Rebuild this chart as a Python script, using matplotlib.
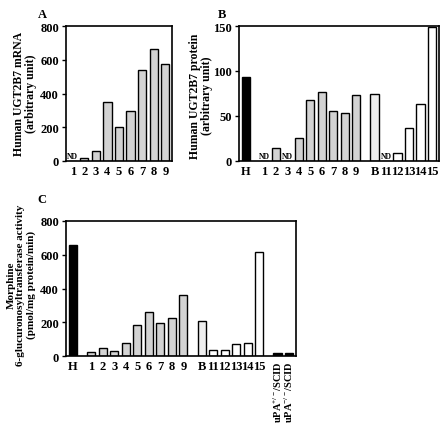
import matplotlib
matplotlib.use("Agg")
import matplotlib.pyplot as plt

plt.rcParams['font.family'] = ['Liberation Serif', 'DejaVu Serif']
plt.rcParams['font.weight'] = 'bold'
plt.rcParams['mathtext.fontset'] = 'custom'
plt.rcParams['mathtext.rm'] = 'Liberation Serif:bold'
plt.rcParams['mathtext.bf'] = 'Liberation Serif:bold'
plt.rcParams['mathtext.it'] = 'Liberation Serif:bold'

# ---- data ----
a_labels = ['1', '2', '3', '4', '5', '6', '7', '8', '9']
a_values = [0, 16, 61, 351, 203, 297, 540, 663, 573]
a_nd = ['1']

b_labels = ['H', '1', '2', '3', '4', '5', '6', '7', '8', '9', 'B', '11', '12', '13', '14', '15']
b_values = [93, 0, 14, 0, 26, 68, 77, 56, 53, 73, 74, 0, 9, 37, 63, 149]
b_nd = ['1', '3', '11']

c_labels = ['H', '1', '2', '3', '4', '5', '6', '7', '8', '9', 'B', '11', '12', '13', '14', '15',
            r'uPA$^{+/-}$/SCID', r'uPA$^{-/-}$/SCID']
c_values = [656, 22, 45, 29, 75, 186, 263, 196, 227, 359, 207, 34, 36, 73, 79, 618, 18, 20]

# group of each category: human, chimeric gray, B, chimeric white, mouse
b_groups = ['h'] + ['g'] * 9 + ['b'] + ['w'] * 5
c_groups = ['h'] + ['g'] * 9 + ['b'] + ['w'] * 5 + ['m', 'm']

colors = {'h': 'black', 'g': '#d3d3d3', 'b': '#eeeeee', 'w': 'white', 'm': 'black'}
GAP = 1.6

def positions(groups):
    pos = []
    x = 0.0
    prev = None
    for g in groups:
        if prev is not None:
            if (prev != g) and not (prev == 'b' and g == 'w'):
                x += GAP
            else:
                x += 1
        pos.append(x)
        prev = g
    return pos

W, H = 440, 427
fig = plt.figure(figsize=(W / 100, H / 100), dpi=100)

def add_ax(l, r, t, b):
    return fig.add_axes([l / W, 1 - b / H, (r - l) / W, (b - t) / H])

def ylab(x, y, s, fs):
    fig.text(x / W, 1 - y / H, s, rotation=90, ha='center', va='center',
             fontsize=fs, fontweight='bold', linespacing=1.1, multialignment='center')

TFS = 9
LFS = 8.5

def style(ax):
    ax.tick_params(axis='y', direction='out', length=3, width=1, labelsize=TFS, pad=2)
    ax.tick_params(axis='x', length=0, labelsize=TFS, pad=3)
    for s in ax.spines.values():
        s.set_linewidth(1.2)
    for lab in ax.get_xticklabels() + ax.get_yticklabels():
        lab.set_fontweight('bold')

# ---- Panel A ----
axA = add_ax(66, 172, 27, 162)
xa = list(range(1, len(a_labels) + 1))
axA.bar(xa, a_values, width=0.72, color='#d3d3d3', edgecolor='black', linewidth=1)
axA.set_xlim(0.42, 9.58)
axA.set_ylim(0, 800)
axA.set_yticks([0, 200, 400, 600, 800])
axA.set_xticks(xa)
axA.set_xticklabels(a_labels)
for lab in a_nd:
    i = a_labels.index(lab)
    axA.text(xa[i], 8, 'ND', ha='center', va='bottom', fontsize=5.5, fontweight='bold')
style(axA)
ylab(25, 94, 'Human UGT2B7 mRNA\n(arbitrary unit)', LFS)
fig.text(42 / W, 1 - 15 / H, 'A', fontsize=9, fontweight='bold', ha='center', va='center')

# ---- Panel B ----
axB = add_ax(239, 439, 27, 162)
xb = positions(b_groups)
axB.bar(xb, b_values, width=0.72, color=[colors[g] for g in b_groups],
        edgecolor='black', linewidth=1)
axB.set_xlim(-0.6, xb[-1] + 0.6)
axB.set_ylim(0, 150)
axB.set_yticks([0, 50, 100, 150])
axB.set_xticks(xb)
axB.set_xticklabels(b_labels)
for lab in b_nd:
    i = b_labels.index(lab)
    axB.text(xb[i], 1.5, 'ND', ha='center', va='bottom', fontsize=5.5, fontweight='bold')
style(axB)
ylab(201, 96, 'Human UGT2B7 protein\n(arbitrary unit)', LFS)
fig.text(222 / W, 1 - 15 / H, 'B', fontsize=9, fontweight='bold', ha='center', va='center')

# ---- Panel C ----
axC = add_ax(66, 296, 222, 357)
xc = positions(c_groups)
axC.bar(xc, c_values, width=0.72, color=[colors[g] for g in c_groups],
        edgecolor='black', linewidth=1)
axC.set_xlim(-0.6, xc[-1] + 0.6)
axC.set_ylim(0, 800)
axC.set_yticks([0, 200, 400, 600, 800])
axC.set_xticks(xc)
axC.set_xticklabels(c_labels)
style(axC)
for lab in axC.get_xticklabels()[-2:]:
    lab.set_rotation(90)
    lab.set_fontsize(7.5)
ylab(21, 285, 'Morphine\n6-glucuronosyltransferase activity\n(pmol/mg protein/min)', 8)
fig.text(42 / W, 1 - 200 / H, 'C', fontsize=9, fontweight='bold', ha='center', va='center')

fig.savefig('out.png', dpi=100)
